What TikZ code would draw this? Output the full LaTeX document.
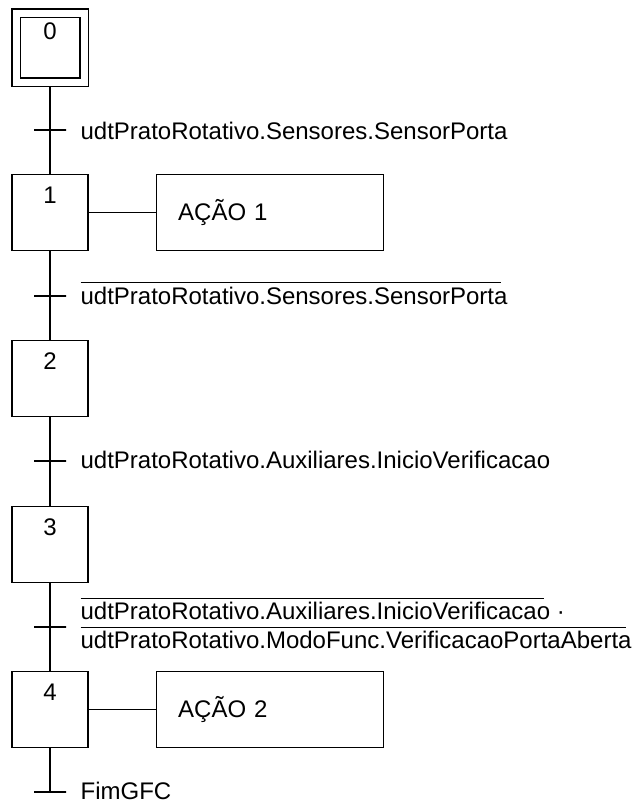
\documentclass[tikz,border=0pt]{standalone}
\usepackage{fontspec}
\setmainfont{Liberation Sans}
\usetikzlibrary{positioning}
\newcommand{\barra}[1]{$\overline{\rule{0pt}{9.3pt}\mbox{#1}\kern-3pt}\kern3pt$}
\tikzset{
  etapa/.style={draw, minimum width=38pt, minimum height=38pt, inner sep=0pt,
    label={[anchor=north, yshift=-6pt, inner sep=0pt]north:#1}},
  etapaini/.style={draw, double, double distance=3.5pt, minimum width=34pt, minimum height=34.5pt,
    inner sep=0pt, outer sep=2.25pt, label={[anchor=north, yshift=-7pt, inner sep=0pt]north:#1}},
  acao/.style={draw, minimum width=113.5pt, minimum height=38pt, text width=91.5pt, align=left, inner xsep=11pt},
  transicao/.style={draw, minimum width=16pt, minimum height=0pt, inner sep=0pt, outer sep=0pt},
  cond/.style={anchor=base west, inner sep=0pt, align=left}
}
\begin{document}
\begin{tikzpicture}[x=0.5pt, y=-0.5pt, line width=0.6pt, font=\fontsize{12}{14.5}\selectfont]
  \useasboundingbox (0,0) rectangle (638,805);
  % etapas
  \node[etapaini=0] (e0) at (50,47.5) {};
  \node[etapa=1] (e1) at (50,212.5) {};
  \node[etapa=2] (e2) at (50,378.5) {};
  \node[etapa=3] (e3) at (50,544.5) {};
  \node[etapa=4] (e4) at (50,709.5) {};
  % acoes
  \node[acao, right=33.5pt of e1] (a1) {AÇÃO 1};
  \node[acao, right=33.5pt of e4] (a2) {AÇÃO 2};
  % transicoes
  \node[transicao] (t1) at (50,130) {};
  \node[transicao] (t2) at (50,296) {};
  \node[transicao] (t3) at (50,461) {};
  \node[transicao] (t4) at (50,627) {};
  \node[transicao] (tf) at (50,792) {};
  % receptividades
  \node[cond] (c1) at ([xshift=7pt, yshift=-4.5pt]t1.east) {udtPratoRotativo.Sensores.SensorPorta};
  \node[cond] (c2) at ([xshift=7pt, yshift=-4pt]t2.east) {\barra{udtPratoRotativo.Sensores.SensorPorta}};
  \node[cond] (c3) at ([xshift=7pt, yshift=-3.75pt]t3.east) {udtPratoRotativo.Auxiliares.InicioVerificacao};
  \node[cond] (c4) at ([xshift=7pt, yshift=-10.75pt]t4.east) {\barra{udtPratoRotativo.Auxiliares.InicioVerificacao} ·\\
    \barra{udtPratoRotativo.ModoFunc.VerificacaoPortaAberta}};
  \node[cond] (cf) at ([xshift=7pt, yshift=-3.5pt]tf.east) {FimGFC};
  % ligacoes
  \draw (e0) -- (t1) -- (e1);
  \draw (e1) -- (t2) -- (e2);
  \draw (e2) -- (t3) -- (e3);
  \draw (e3) -- (t4) -- (e4);
  \draw (e4) -- (tf);
  \draw (e1) -- (a1);
  \draw (e4) -- (a2);
\end{tikzpicture}
\end{document}
